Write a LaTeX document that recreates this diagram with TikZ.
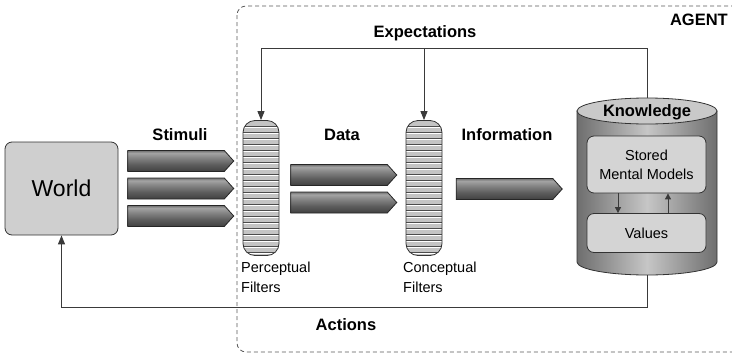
\documentclass[tikz,border=0pt]{standalone}
\usepackage{fontspec}
\setmainfont{Liberation Sans}
\usetikzlibrary{arrows.meta,shapes.symbols,calc}

\definecolor{linegray}{HTML}{3A3A3A}
\definecolor{boxgray}{HTML}{D4D4D4}
\definecolor{worldgray}{HTML}{CFCFCF}
\definecolor{stripegray}{HTML}{C4C4C4}
\definecolor{cylside}{HTML}{6E6E6E}
\definecolor{cylmid}{HTML}{C6C6C6}
\definecolor{captop}{HTML}{C9C9C9}
\definecolor{barA}{HTML}{404040}
\definecolor{barB}{HTML}{5E5E5E}
\definecolor{barC}{HTML}{8A8A8A}
\definecolor{barD}{HTML}{A4A4A4}
\definecolor{barE}{HTML}{707070}

% metallic look of the flow bars: dark bottom, light band near the top
\pgfdeclareverticalshading{barshade}{100bp}{%
  color(0bp)=(barA); color(25bp)=(barA); color(42bp)=(barB);
  color(60bp)=(barC); color(69bp)=(barD); color(75bp)=(barE); color(100bp)=(barE)}

\begin{document}
\begin{tikzpicture}[x=1pt,y=-1pt,
  lbl/.style={font=\fontsize{16.5}{19}\selectfont\bfseries, inner sep=0pt},
  small/.style={font=\fontsize{14.5}{19.5}\selectfont, inner sep=0pt},
  conn/.style={draw=linegray, line width=0.9pt},
  tip/.style={-{Triangle[length=9pt,width=7pt]}},
  smalltip/.style={-{Triangle[length=6pt,width=6pt]}},
  bar/.style={signal, signal to=east, signal pointer angle=96,
    draw=black!85, line width=0.8pt, shade, shading=barshade,
    minimum width=106pt, minimum height=21pt, inner sep=0pt},
  filter/.style={draw=black!80, line width=0.8pt, fill=stripegray,
    rounded corners=12pt, minimum width=36pt, minimum height=135pt, inner sep=0pt,
    path picture={
      \foreach \k in {1,...,22}{
        \draw[black!70, line width=0.5pt]
          ([yshift=-\k*6pt]path picture bounding box.north west) --
          ([yshift=-\k*6pt]path picture bounding box.north east);
        \draw[white, line width=1pt]
          ([yshift=-\k*6pt-1.1pt]path picture bounding box.north west) --
          ([yshift=-\k*6pt-1.1pt]path picture bounding box.north east);
      }}},
  box/.style={draw=black!80, line width=0.8pt, fill=boxgray,
    rounded corners=7pt, inner sep=0pt, align=center,
    font=\fontsize{14.5}{19}\selectfont},
  agentline/.style={draw=black!65, line width=0.8pt, dash pattern=on 4pt off 3pt,
    rounded corners=9pt}
]
\useasboundingbox (0,0) rectangle (732,354);

% the agent boundary
\draw[agentline] (237,6) rectangle (742,352);
\node[lbl, anchor=east] (agent) at (728,20) {AGENT};

% the world
\node[draw=black!80, line width=0.8pt, fill=worldgray, rounded corners=7pt,
  minimum width=113pt, minimum height=93pt, font=\fontsize{23}{26}\selectfont]
  (world) at (61.5,188.5) {World};

% stimuli
\node[bar] (s1) at (176,161) {};
\node[bar] (s2) at (176,188.5) {};
\node[bar] (s3) at (176,216) {};
\node[lbl] (stim) at (180,135) {Stimuli};

% perceptual filters
\node[filter] (pf) at (261,188) {};
\node[small, align=left, anchor=north west] (pfl) at (241,262) {Perceptual\\Filters};

% data
\node[bar] (d1) at (339,175) {};
\node[bar] (d2) at (339,202.5) {};
\node[lbl] (data) at (342,135) {Data};

% conceptual filters
\node[filter] (cf) at (424,188) {};
\node[small, align=left, anchor=north west] (cfl) at (403,262) {Conceptual\\Filters};

% information
\node[bar] (i1) at (504.5,189) {};
\node[lbl] (info) at (507,135) {Information};

% knowledge store
\coordinate (kntop) at (647,98);
\coordinate (knbot) at (647,275);
\path[draw=black!80, line width=0.8pt, left color=cylside, right color=cylside,
  middle color=cylmid]
  (577,111) -- (577,262) arc[start angle=180, end angle=0, x radius=70, y radius=13]
  -- (717,111) -- cycle;
\draw[black!80, line width=0.8pt, fill=captop] (647,111) ellipse[x radius=70, y radius=13];
\node[lbl] (know) at (647,112) {Knowledge};

\node[box, minimum width=119pt, minimum height=57pt] (smm) at (646.5,164.5)
  {Stored\\Mental Models};
\node[box, minimum width=119pt, minimum height=39pt] (val) at (646.5,233) {Values};
\draw[conn, smalltip] (smm.south -| 618,0) -- (val.north -| 618,0);
\draw[conn, smalltip] (val.north -| 668,0) -- (smm.south -| 668,0);

% expectations feedback
\coordinate (expR) at (647,48);
\draw[conn, tip] (kntop) -- (expR) -| (pf.north);
\draw[conn, tip] (cf.north |- expR) -- (cf.north);
\node[lbl] (expect) at (425,33) {Expectations};

% actions on the world
\coordinate (actY) at (0,307);
\draw[conn, tip] (knbot) |- (world.south |- actY) -- (world.south);
\node[lbl] (act) at (346,325) {Actions};
\end{tikzpicture}
\end{document}
